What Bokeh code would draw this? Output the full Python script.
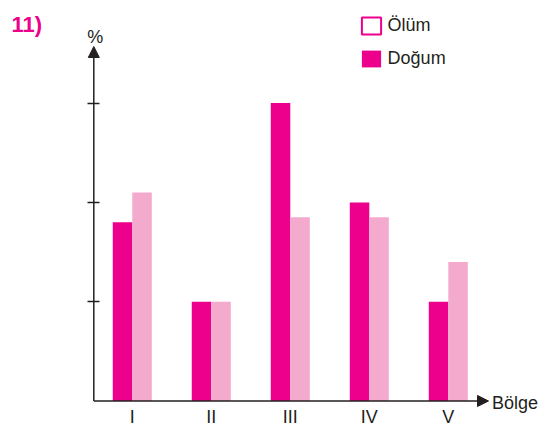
from bokeh.plotting import figure
from bokeh.models import (ColumnDataSource, Range1d, FixedTicker, Arrow, NormalHead,
                          Label, Legend, LegendItem)
from bokeh.transform import dodge
from bokeh.embed import file_html
from bokeh.resources import INLINE

# ---- data ----
regions = ["I", "II", "III", "IV", "V"]
dogum = [1.8, 1.0, 3.0, 2.0, 1.0]     # Doğum (dark)
olum = [2.1, 1.0, 1.85, 1.85, 1.4]    # Ölüm (light)
y_ticks = [1, 2, 3]
series_labels = ["Ölüm", "Doğum"]
x_title = "Bölge"
y_title = "%"
heading = "11)"

# ---- style ----
MAGENTA = "#EC008C"
PINK = "#F4AACD"
AXIS = "#231F20"
FONT = "Liberation Sans"

idx = list(range(len(regions)))
src = ColumnDataSource(dict(idx=idx, region=regions, dogum=dogum, olum=olum))

W, H = 546, 427
p = figure(width=W, height=H, output_backend="svg", toolbar_location=None,
           title=None, x_range=Range1d(-1.668, 5.243), y_range=Range1d(-0.267, 4.033),
           min_border=0, min_border_left=0, min_border_right=0,
           min_border_top=0, min_border_bottom=0)
p.outline_line_color = None
p.grid.visible = False
p.background_fill_color = "white"

BW = 0.247
r_d = p.vbar(x=dodge("idx", -BW / 2, range=p.x_range), top="dogum", width=BW,
             bottom=0, source=src, fill_color=MAGENTA, line_color=None)
r_o = p.vbar(x=dodge("idx", BW / 2, range=p.x_range), top="olum", width=BW,
             bottom=0, source=src, fill_color=PINK, line_color=None)

# legend proxy for Ölüm (outlined square as in the reference legend); not drawn itself
proxy = p.vbar(x=dodge("idx", BW / 2, range=p.x_range), top="olum", width=BW,
               bottom=0, source=src, fill_color="white", line_color=MAGENTA,
               line_width=2, visible=False)

Y_AXIS_X = -0.487
X_TIP = 4.509
Y_TIP = 3.57

xa = p.xaxis[0]
xa.fixed_location = 0
xa.ticker = FixedTicker(ticks=idx)
xa.major_label_overrides = {i: r for i, r in zip(idx, regions)}
xa.axis_line_color = None
xa.major_tick_line_color = None
xa.minor_tick_line_color = None
xa.major_tick_in = 0
xa.major_tick_out = 0
xa.major_label_standoff = 6
xa.major_label_text_font = FONT
xa.major_label_text_font_size = "18px"
xa.major_label_text_color = AXIS

ya = p.yaxis[0]
ya.fixed_location = Y_AXIS_X
ya.ticker = FixedTicker(ticks=y_ticks)
ya.major_label_overrides = {t: "" for t in y_ticks}
ya.axis_line_color = None
ya.minor_tick_line_color = None
ya.major_tick_in = 6
ya.major_tick_out = 6
ya.major_tick_line_color = AXIS
ya.major_tick_line_width = 1.5

# axis lines with arrow heads
p.add_layout(Arrow(end=NormalHead(size=11, fill_color=AXIS, line_color=AXIS, line_width=1),
                   x_start=Y_AXIS_X, y_start=0, x_end=X_TIP, y_end=0,
                   line_color=AXIS, line_width=1.5))
p.add_layout(Arrow(end=NormalHead(size=11, fill_color=AXIS, line_color=AXIS, line_width=1),
                   x_start=Y_AXIS_X, y_start=0, x_end=Y_AXIS_X, y_end=Y_TIP,
                   line_color=AXIS, line_width=1.5))

p.add_layout(Label(x=X_TIP, y=0, x_offset=3.5, y_offset=-2.5, text=x_title,
                   text_font=FONT, text_font_size="18px", text_color=AXIS,
                   text_baseline="alphabetic", text_align="left"))
p.add_layout(Label(x=Y_AXIS_X, y=Y_TIP, x_offset=1.5, y_offset=9, text=y_title,
                   text_font=FONT, text_font_size="18px", text_color=AXIS,
                   text_baseline="alphabetic", text_align="center"))
p.add_layout(Label(x=11, y=H - 23.5, x_units="screen", y_units="screen", text=heading,
                   text_font=FONT, text_font_size="22px", text_font_style="bold",
                   text_color=MAGENTA, text_baseline="alphabetic", text_align="left"))

legend = Legend(items=[LegendItem(label=series_labels[0], renderers=[proxy]),
                       LegendItem(label=series_labels[1], renderers=[r_d])],
                location=(358.6, 358), orientation="vertical",
                glyph_width=24, glyph_height=21, label_standoff=5,
                label_text_font=FONT, label_text_font_size="18px",
                label_text_color=AXIS, spacing=12, padding=0, margin=0,
                border_line_color=None, background_fill_alpha=0)
p.add_layout(legend)

open("out.html", "w").write(file_html(p, INLINE))
